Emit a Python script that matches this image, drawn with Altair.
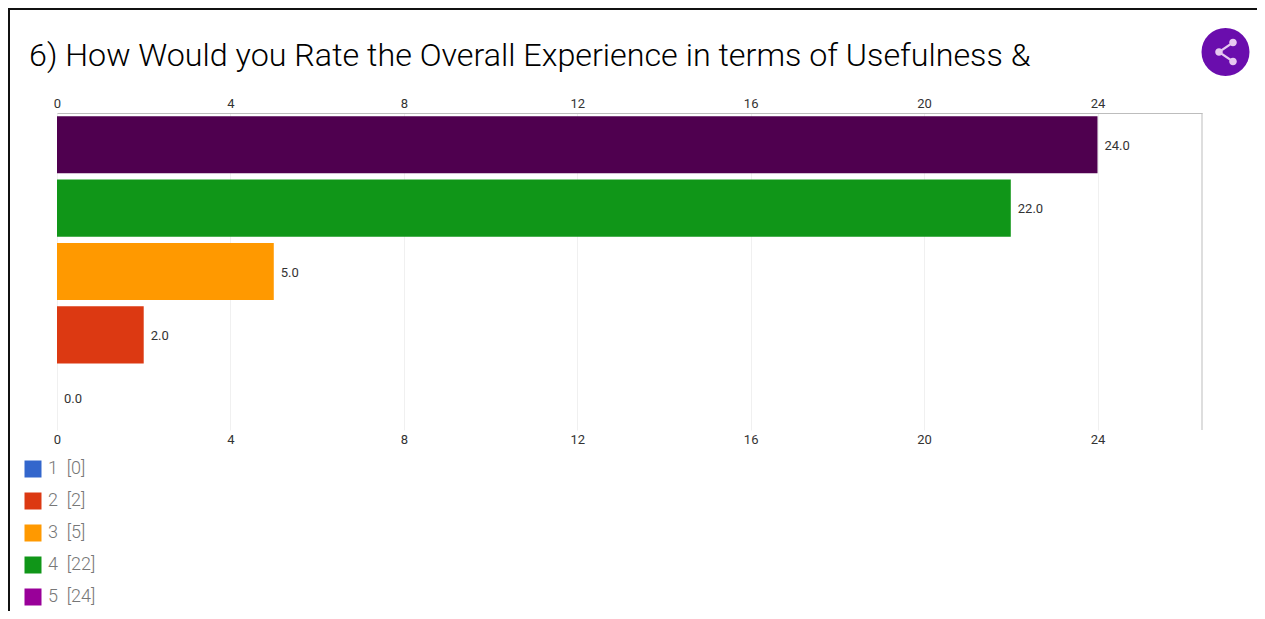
import altair as alt
import pandas as pd

TITLE = "6) How Would you Rate the Overall Experience in terms of Usefulness &"
ratings = ["5", "4", "3", "2", "1"]
values = [24, 22, 5, 2, 0]
bar_colors = ["#4f004f", "#109618", "#ff9900", "#dc3912", "#3366cc"]
legend_labels = ["1\u00a0\u00a0[0]", "2\u00a0\u00a0[2]", "3\u00a0\u00a0[5]", "4\u00a0\u00a0[22]", "5\u00a0\u00a0[24]"]
legend_colors = ["#3366cc", "#dc3912", "#ff9900", "#109618", "#990099"]
ticks = [0, 4, 8, 12, 16, 20, 24]


def dot(cx, cy, r=0.38):
    return (f"M{cx + r},{cy} A{r},{r} 0 1 1 {cx - r},{cy} A{r},{r} 0 1 1 {cx + r},{cy} Z ")


SHARE = (dot(0.75, -0.95) + dot(-0.65, 0) + dot(0.75, 0.95)
         + "M0.70,-1.06 L0.80,-0.84 L-0.60,0.11 L-0.70,-0.11 Z "
         + "M-0.70,0.11 L-0.60,-0.11 L0.80,0.84 L0.70,1.06 Z")

df = pd.DataFrame({
    "rating": ratings,
    "value": values,
    "color": bar_colors,
    "legend": [legend_labels[int(r) - 1] for r in ratings],
    "label": [f"{v:.1f}" for v in values],
})

W, H = 1145, 317
x_scale = alt.Scale(domain=[0, 1145 / 1040.5 * 24], nice=False, zero=True)
y_enc = alt.Y("rating:N", sort=ratings, axis=None,
              scale=alt.Scale(paddingInner=0.1, paddingOuter=0.05))


def x_axis(orient, grid, domain):
    return alt.Axis(orient=orient, values=ticks, title=None, ticks=False, grid=grid,
                    gridColor="#f0f0f0", domain=domain, domainColor="#bdbdbd",
                    labelColor="#333333", labelFont="Roboto", labelFontSize=13,
                    labelPadding=3, labelFlush=False)


base = alt.Chart(df)
one = alt.Chart(pd.DataFrame({"a": [0]}))
bars = base.mark_bar().encode(
    x=alt.X("value:Q", scale=x_scale, axis=x_axis("top", True, True)),
    y=y_enc,
    fill=alt.Fill("color:N", scale=None),
)
bottom = base.mark_bar(opacity=0).encode(
    x=alt.X("value:Q", scale=x_scale, axis=x_axis("bottom", False, False)),
    y=y_enc,
)
labels = base.mark_text(align="left", dx=7, dy=1, font="Roboto", fontSize=13, color="#333333").encode(
    x=alt.X("value:Q", scale=x_scale, axis=None),
    y=y_enc,
    text="label:N",
)
legend_layer = base.mark_square(opacity=0).encode(
    x=alt.X("value:Q", scale=x_scale, axis=None),
    y=y_enc,
    color=alt.Color(
        "legend:N",
        scale=alt.Scale(domain=legend_labels, range=legend_colors),
        legend=alt.Legend(
            orient="none", legendX=-33, legendY=347, title=None, symbolType="square",
            symbolSize=289, symbolOpacity=1, symbolStrokeWidth=0, labelFont="Roboto",
            labelFontSize=18, labelColor="#777777", labelOffset=6, rowPadding=14,
            padding=0, labelFontWeight=300,
        ),
    ),
)
right_rule = one.mark_rule(color="#bdbdbd", strokeWidth=1).encode(
    x=alt.value(W), y=alt.value(0), y2=alt.value(H))
frame_top = one.mark_rule(color="#111111", strokeWidth=2, clip=False).encode(
    x=alt.value(-49), x2=alt.value(1200), y=alt.value(-104))
frame_left = one.mark_rule(color="#111111", strokeWidth=2, clip=False).encode(
    x=alt.value(-48), y=alt.value(-105), y2=alt.value(498))
share_bg = one.mark_point(
    shape="circle", filled=True, size=2304, color="#6a0dad", opacity=1).encode(
    x=alt.value(1168.5), y=alt.value(-61))
share_icon = one.mark_point(
    shape=SHARE, size=400, filled=True, fill="#e6c8f0", opacity=1).encode(
    x=alt.value(1168.5), y=alt.value(-61))

chart = (
    alt.layer(bars, bottom, labels, legend_layer, right_rule, frame_top, frame_left, share_bg, share_icon)
    .resolve_axis(x="independent")
    .properties(
        width=W,
        height=H,
        padding={"left": 49, "top": 105, "right": 55, "bottom": 181},
        autosize=alt.AutoSizeParams(type="none"),
        background="#ffffff",
        title=alt.TitleParams(TITLE, anchor="start", frame="group", dx=-28, offset=0, dy=66,
                              font="Roboto", fontSize=32.25, fontWeight=300, color="#000000"),
    )
    .configure_view(stroke=None)
)

chart.save("out.html", embed_options={"renderer": "svg", "actions": False})
